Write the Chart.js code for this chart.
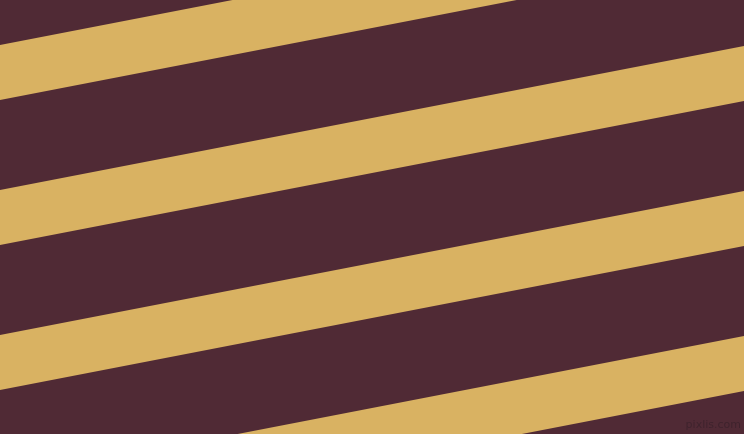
<!DOCTYPE html>
<html>
<head>
<meta charset="utf-8">
<script src="https://cdn.jsdelivr.net/npm/chart.js@4"></script>
<style>
  html, body { margin: 0; padding: 0; background: #502a35; }
  #stripes { display: block; background: #502a35; }
</style>
</head>
<body>
<canvas id="stripes" width="744" height="434"></canvas>
<script>
// band edges in pixel units, left end (x=0) and right end (x=744)
var xPositions = [0, 744];
var stripeTopLeft = [45, 190, 335, 480];
var stripeTopRight = [-99, 46, 191, 336];
var stripeBottomLeft = [100, 245, 390, 535];
var stripeBottomRight = [-44, 101, 246, 391];

var stripeColor = '#d9b262';

var datasets = [];
for (var i = 0; i < stripeTopLeft.length; i++) {
    datasets.push({
        label: 'top ' + i,
        data: [
            { x: xPositions[0], y: stripeTopLeft[i] },
            { x: xPositions[1], y: stripeTopRight[i] }
        ],
        borderWidth: 0,
        pointRadius: 0,
        fill: false
    });
    datasets.push({
        label: 'bottom ' + i,
        data: [
            { x: xPositions[0], y: stripeBottomLeft[i] },
            { x: xPositions[1], y: stripeBottomRight[i] }
        ],
        borderWidth: 0,
        pointRadius: 0,
        backgroundColor: stripeColor,
        fill: '-1'
    });
}

// small watermark in the corner
var watermark = {
    id: 'watermark',
    afterDraw: function (chart) {
        var ctx = chart.ctx;
        ctx.save();
        ctx.font = '11px "DejaVu Sans", sans-serif';
        ctx.fillStyle = 'rgba(30, 20, 30, 0.35)';
        ctx.textAlign = 'right';
        ctx.textBaseline = 'alphabetic';
        ctx.fillText('pixlis.com', 741, 428);
        ctx.restore();
    }
};

var ctx = document.getElementById('stripes').getContext('2d');
new Chart(ctx, {
    type: 'line',
    data: { datasets: datasets },
    options: {
        responsive: false,
        animation: false,
        layout: { padding: 0 },
        plugins: {
            legend: { display: false },
            tooltip: { enabled: false }
        },
        scales: {
            x: { type: 'linear', min: 0, max: 744, display: false },
            y: { type: 'linear', min: 0, max: 434, reverse: true, display: false }
        }
    },
    plugins: [watermark]
});
</script>
</body>
</html>
